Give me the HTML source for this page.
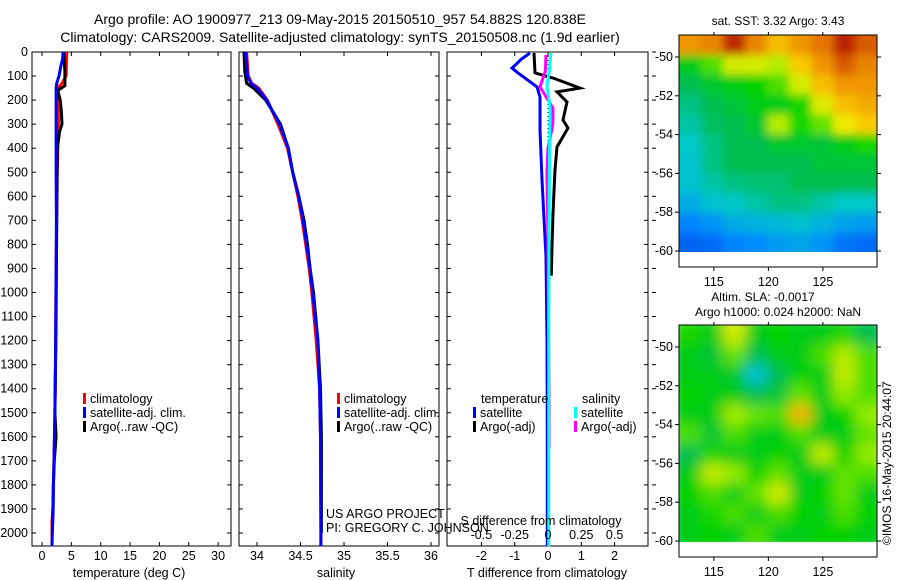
<!DOCTYPE html>
<html><head><meta charset="utf-8"><style>
html,body{margin:0;padding:0;background:#fff;}
svg{display:block;font-family:"Liberation Sans",sans-serif;}
text{font-size:12.5px;fill:#000;}
</style></head><body>
<svg id="fig" width="900" height="580" viewBox="0 0 900 580" xmlns="http://www.w3.org/2000/svg">
<defs>
<filter id="blur1" x="0" y="0" width="1" height="1"><feGaussianBlur stdDeviation="7"/></filter>
<filter id="blur2" x="0" y="0" width="1" height="1"><feGaussianBlur stdDeviation="4.5"/></filter>
<clipPath id="clipMap1"><rect x="679" y="35" width="198" height="217"/></clipPath>
<clipPath id="clipMap2"><rect x="679" y="325" width="198" height="217"/></clipPath>
</defs>
<text x="340" y="24" text-anchor="middle" style="font-size:14px">Argo profile: AO 1900977_213 09-May-2015 20150510_957 54.882S 120.838E</text>
<text x="340" y="42" text-anchor="middle" style="font-size:14px">Climatology: CARS2009. Satellite-adjusted climatology: synTS_20150508.nc (1.9d earlier)</text>
<g id="g"></g>
</svg>
<script>
// ---------- profile data ----------
const tClimDepth = [0,100,130,150,200,300,400,500,700,900,1100,1300,1500,1700,1800,1900,1950,2000,2055];
const tClimVal   = [4.2,4.1,3.4,2.7,2.8,2.8,2.7,2.6,2.5,2.4,2.35,2.3,2.2,2.05,1.95,1.85,1.7,1.7,1.7];
const tSatDepth  = [0,30,60,100,130,150,300,500,700,900,1100,1300,1500,1700,1800,1900,2000,2055];
const tSatVal    = [3.6,3.5,3.2,2.9,2.5,2.4,2.4,2.4,2.45,2.4,2.35,2.3,2.2,2.05,1.95,1.9,1.75,1.7];
const tArgoDepth = [0,80,140,160,200,250,300,330,400,500,700,900,1100,1300,1500,1600,1700,1800,1900,2000];
const tArgoVal   = [3.7,3.9,3.9,2.7,3.1,3.3,3.4,3.0,2.6,2.55,2.5,2.45,2.4,2.3,2.2,2.4,2.1,1.95,1.85,1.75];
const sClimDepth = [0,100,130,150,200,300,400,500,600,700,800,900,1000,1200,1300,1400,1600,2000,2055];
const sClimVal   = [33.88,33.9,33.94,34.02,34.12,34.24,34.35,34.41,34.47,34.52,34.56,34.6,34.63,34.68,34.7,34.72,34.73,34.735,34.735];
const sSatDepth  = [0,100,130,150,200,300,400,500,600,700,800,900,1000,1200,1400,1600,2000,2055];
const sSatVal    = [33.87,33.89,33.93,34.0,34.11,34.26,34.36,34.41,34.48,34.53,34.57,34.61,34.64,34.7,34.72,34.73,34.735,34.735];
const sArgoDepth = [0,80,130,150,200,300,400,500,600,700,800,900,1000,1200,1400,1600,1700,1800,1900,2000];
const sArgoVal   = [33.85,33.86,33.88,33.96,34.1,34.27,34.36,34.41,34.48,34.54,34.58,34.61,34.65,34.7,34.73,34.74,34.74,34.74,34.74,34.74];
const dTSatDepth  = [4,30,67,87,145,187,324,532,852,1200,1600,2000,2055];
const dTSatVal    = [-0.54,-0.8,-1.08,-0.9,-0.33,-0.24,-0.24,-0.18,-0.06,-0.03,-0.02,-0.02,-0.02];
const dTArgoDepth = [4,87,108,150,166,208,283,316,395,490,670,810,930];
const dTArgoVal   = [-0.42,-0.39,0.15,0.96,0.27,0.57,0.45,0.6,0.27,0.21,0.15,0.12,0.1];
const dSSatDepth  = [4,80,140,229,400,700,1000,1500,2000,2055];
const dSSatVal    = [0.022,0.01,-0.008,0.015,0.012,0.008,0.006,0.005,0.005,0.005];
const dSArgoDepth = [12,80,145,233,300,400,500,800,1100,1400,1650];
const dSArgoVal   = [-0.015,-0.02,-0.06,0.037,0.037,0.0,-0.008,0.0,0.004,0.008,0.008];
const depthTicks = [0,100,200,300,400,500,600,700,800,900,1000,1100,1200,1300,1400,1500,1600,1700,1800,1900,2000];
const tempTicks = [0,5,10,15,20,25,30];
const salTicks = [34,34.5,35,35.5,36];
const salTickLabels = ["34","34.5","35","35.5","36"];
const dTTicks = [-2,-1,0,1,2];
const dSTicks = [-0.5,-0.25,0,0.25,0.5];
const dSTickLabels = ["-0.5","-0.25","0","0.25","0.5"];
// ---------- map data ----------
const sstGrid = [
 [0.78,0.8,0.92,0.8,0.72,0.78,0.82,0.93,0.85],
 [0.5,0.55,0.62,0.62,0.6,0.7,0.78,0.85,0.8],
 [0.45,0.48,0.5,0.52,0.55,0.62,0.72,0.78,0.78],
 [0.42,0.45,0.47,0.5,0.5,0.53,0.63,0.72,0.75],
 [0.4,0.44,0.45,0.48,0.6,0.53,0.56,0.64,0.7],
 [0.38,0.42,0.45,0.45,0.48,0.48,0.47,0.5,0.53],
 [0.37,0.42,0.45,0.45,0.45,0.45,0.47,0.47,0.47],
 [0.37,0.4,0.42,0.43,0.43,0.45,0.45,0.45,0.45],
 [0.34,0.37,0.38,0.4,0.42,0.42,0.4,0.38,0.38],
 [0.29,0.31,0.34,0.35,0.36,0.37,0.35,0.33,0.32],
 [0.25,0.26,0.29,0.3,0.32,0.33,0.31,0.27,0.26]];
const slaGrid = [
 [0.53,0.5,0.62,0.5,0.52,0.5,0.5,0.53,0.45],
 [0.5,0.47,0.56,0.45,0.5,0.5,0.55,0.6,0.55],
 [0.5,0.5,0.48,0.37,0.45,0.52,0.5,0.61,0.55],
 [0.52,0.5,0.5,0.45,0.47,0.56,0.5,0.58,0.55],
 [0.5,0.5,0.59,0.56,0.55,0.74,0.5,0.52,0.58],
 [0.55,0.47,0.55,0.5,0.5,0.55,0.5,0.5,0.56],
 [0.45,0.53,0.5,0.5,0.52,0.5,0.61,0.52,0.58],
 [0.5,0.61,0.58,0.52,0.56,0.5,0.5,0.56,0.55],
 [0.52,0.55,0.5,0.56,0.62,0.5,0.52,0.56,0.5],
 [0.5,0.53,0.55,0.5,0.55,0.52,0.5,0.55,0.52],
 [0.5,0.52,0.5,0.55,0.5,0.5,0.52,0.52,0.5]];
const latTicks = [-50,-52,-54,-56,-58,-60];
const lonTicks = [115,120,125];

const NS="http://www.w3.org/2000/svg";
const G=document.getElementById('g');
function mk(tag,attrs,parent){const e=document.createElementNS(NS,tag);for(const k in attrs)e.setAttribute(k,attrs[k]);(parent||G).appendChild(e);return e;}
function txt(x,y,s,anchor,parent,size){const e=mk('text',{x:x,y:y,'text-anchor':anchor||'start'},parent);if(size)e.style.fontSize=size+'px';e.textContent=s;return e;}

const yD = d => 52 + d*0.2405;
const xT = t => 42 + t*5.87;
const xS = s => 257 + (s-34)*87;
const xDT = t => 548 + t*33.3;
const xDS = s => 548 + s*4*33.3;

function line(xs,ys,xf,color,name,w){
  const pts=xs.map((v,i)=>xf(v).toFixed(1)+','+yD(ys[i]).toFixed(1)).join(' ');
  const p=mk('polyline',{points:pts,fill:'none',stroke:color,'stroke-width':w||3,'stroke-linejoin':'miter'});
  
  
}
function frame(x0,x1,name){
  const r=mk('rect',{x:x0,y:52,width:x1-x0,height:494,fill:'none',stroke:'#000','stroke-width':1});
  
  
  depthTicks.forEach(d=>{mk('line',{x1:x0,x2:x0+4,y1:yD(d),y2:yD(d),stroke:'#000'});mk('line',{x1:x1,x2:x1-4,y1:yD(d),y2:yD(d),stroke:'#000'});});
}
frame(32,231,'temperature-panel');
depthTicks.forEach(d=>{const t=txt(28,yD(d)+4,String(d),'end');});
tempTicks.forEach(v=>{mk('line',{x1:xT(v),x2:xT(v),y1:546,y2:542,stroke:'#000'});mk('line',{x1:xT(v),x2:xT(v),y1:52,y2:56,stroke:'#000'});const t=txt(xT(v),560,String(v),'middle');});
const xl1=txt(129,577,'temperature (deg C)','middle');
line(tClimVal,tClimDepth,xT,'#f00','temperature-climatology-line');
line(tArgoVal,tArgoDepth,xT,'#000','temperature-argo-line');
line(tSatVal,tSatDepth,xT,'#00f','temperature-satellite-line');
frame(239,439,'salinity-panel');
salTicks.forEach((v,i)=>{mk('line',{x1:xS(v),x2:xS(v),y1:546,y2:542,stroke:'#000'});mk('line',{x1:xS(v),x2:xS(v),y1:52,y2:56,stroke:'#000'});const t=txt(xS(v),560,salTickLabels[i],'middle');});
const xl2=txt(336,577,'salinity','middle');
line(sClimVal,sClimDepth,xS,'#f00','salinity-climatology-line');
line(sArgoVal,sArgoDepth,xS,'#000','salinity-argo-line');
line(sSatVal,sSatDepth,xS,'#00f','salinity-satellite-line');
frame(447,648,'difference-panel');
depthTicks.forEach(d=>{mk('line',{x1:652,x2:656,y1:yD(d),y2:yD(d),stroke:'#000'});});
dTTicks.forEach(v=>{mk('line',{x1:xDT(v),x2:xDT(v),y1:546,y2:542,stroke:'#000'});mk('line',{x1:xDT(v),x2:xDT(v),y1:52,y2:56,stroke:'#000'});const t=txt(xDT(v),560,String(v),'middle');});
const dz=mk('line',{x1:548,x2:548,y1:52,y2:546,stroke:'#000','stroke-dasharray':'1,3'});
line(dTArgoVal,dTArgoDepth,xDT,'#000','t-diff-argo-line');
line(dTSatVal,dTSatDepth,xDT,'#00f','t-diff-satellite-line');
line(dSArgoVal,dSArgoDepth,xDS,'#f0f','s-diff-argo-line');
line(dSSatVal,dSSatDepth,xDS,'#0ff','s-diff-satellite-line');
dSTicks.forEach((v,i)=>{const t=txt(xDS(v),539,dSTickLabels[i],'middle');});
const sdt=txt(541,525,'S difference from climatology','middle');
const xl3=txt(547,577,'T difference from climatology','middle');

function legItem(bx,y,color,label,name){
  const g=mk('g',{});
  mk('rect',{x:bx,y:y-10,width:3,height:11,fill:color},g);
  txt(bx+7,y,label,'start',g);
}
legItem(83,403,'#f00','climatology','legend-climatology');
legItem(83,417,'#00f','satellite-adj. clim.','legend-satellite-adj');
legItem(83,431,'#000','Argo(..raw -QC)','legend-argo');
legItem(337,403,'#f00','climatology','legend-sal-climatology');
legItem(337,417,'#00f','satellite-adj. clim.','legend-sal-satellite-adj');
legItem(337,431,'#000','Argo(..raw -QC)','legend-sal-argo');
const lt=txt(481,403,'temperature');
const ls=txt(582,403,'salinity');
legItem(473,417,'#00f','satellite','legend-t-satellite');
legItem(473,431,'#000','Argo(-adj)','legend-t-argo');
legItem(574,417,'#0ff','satellite','legend-s-satellite');
legItem(574,431,'#f0f','Argo(-adj)','legend-s-argo');
const us1=txt(326,518,'US ARGO PROJECT');
const us2=txt(326,532,'PI: GREGORY C. JOHNSON');

const stops=[[0,[0,0,130]],[0.2,[0,60,230]],[0.3,[0,140,255]],[0.38,[0,200,200]],[0.45,[0,190,80]],[0.52,[0,210,0]],[0.58,[150,235,0]],[0.65,[255,235,0]],[0.78,[240,150,0]],[0.9,[200,50,0]],[1,[150,0,0]]];
function cmap(v){for(let i=1;i<stops.length;i++){if(v<=stops[i][0]){const a=stops[i-1],b=stops[i],f=(v-a[0])/(b[0]-a[0]);return 'rgb('+a[1].map((c,k)=>Math.round(c+(b[1][k]-c)*f)).join(',')+')';}}return 'rgb(150,0,0)';}
function drawMap(grid,y0,name,clip,blur){
  const lonX=l=>679+(l-111.8)*10.9;
  const latY=l=>y0+22+(-50-l)*19.4;
  const latTop=-48.87, latBot=-60.1, lonL=111.8, lonR=130;
  const nr=grid.length,nc=grid[0].length;
  const g=mk('g',{'clip-path':'url(#'+clip+')'});
  
  const gi=mk('g',{filter:'url(#'+blur+')'},g);
  grid.forEach((row,r)=>row.forEach((v,c)=>{
    const la0=latTop+(latBot-latTop)*r/nr, la1=latTop+(latBot-latTop)*(r+1)/nr;
    const lo0=lonL+(lonR-lonL)*c/nc, lo1=lonL+(lonR-lonL)*(c+1)/nc;
    const x=lonX(lo0)-(c==0?8:0), y=latY(la0)-(r==0?8:0);
    const w=lonX(lo1)-x+(c==nc-1?8:0)+0.5, h=latY(la1)-y+(r==nr-1?8:0)+0.5;
    const cell=mk('rect',{x:x.toFixed(1),y:y.toFixed(1),width:w.toFixed(1),height:h.toFixed(1),fill:cmap(v)},gi);
    
    
  }));
  const fr=mk('rect',{x:679,y:y0,width:198,height:232,fill:'none',stroke:'#000'});
  
  latTicks.forEach(l=>{const y=latY(l);mk('line',{x1:675,x2:679,y1:y,y2:y,stroke:'#000'});mk('line',{x1:877,x2:881,y1:y,y2:y,stroke:'#000'});const t=txt(673,y+4,String(l),'end');});
  lonTicks.forEach(l=>{const x=lonX(l);mk('line',{x1:x,x2:x,y1:y0+232,y2:y0+236,stroke:'#000'});mk('line',{x1:x,x2:x,y1:y0,y2:y0-3,stroke:'#000'});const t=txt(x,y0+251,String(l),'middle');});
}
drawMap(sstGrid,35,'sst-map','clipMap1','blur2');
drawMap(slaGrid,325,'sla-map','clipMap2','blur1');
const m1=txt(778,25,'sat. SST: 3.32 Argo: 3.43','middle',null,12);
const m2=txt(763,301,'Altim. SLA: -0.0017','middle',null,12);
const m3=txt(778,316,'Argo h1000: 0.024 h2000: NaN','middle',null,12);
const cr=txt(0,0,'©IMOS 16-May-2015 20:44:07','start',null,12);
cr.setAttribute('transform','translate(891,545) rotate(-90)');

</script>
</body></html>
